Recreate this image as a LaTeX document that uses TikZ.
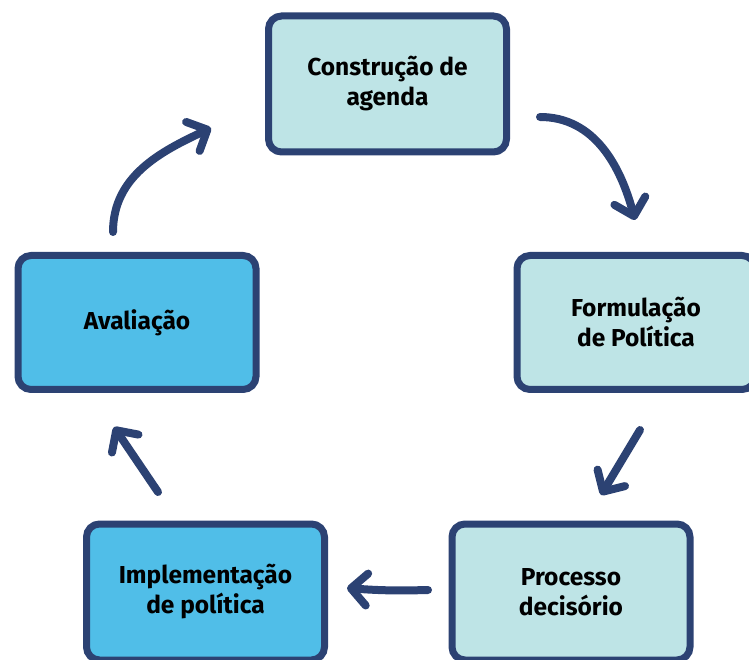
\documentclass[tikz,border=0pt]{standalone}
\usepackage{fontspec}
\setmainfont{Fira Sans}
\usepackage{xcolor}
\usepackage{tikz}
\usetikzlibrary{arrows.meta}
\definecolor{navy}{HTML}{2C4273}
\definecolor{agua}{HTML}{BEE4E6}
\definecolor{ceu}{HTML}{50BEE8}
\tikzset{etapa/.style={draw=navy, line width=7pt, rounded corners=13pt, minimum width=238pt, minimum height=136pt,
  align=center, font=\fontsize{24.5}{30}\selectfont\bfseries},
seta/.style={draw=navy, line width=8pt, line cap=round, line join=round,
  -{Straight Barb[length=16pt,width=32pt,line cap=round,line join=round]}}}

\begin{document}
\begin{tikzpicture}[x=1pt,y=1pt]
 \useasboundingbox (0,0) rectangle (749,659);

 %Drawing the boxes
 \node[etapa,fill=agua] (agenda) at (387.5,575) {Construção de\\agenda};
 \node[etapa,fill=agua,minimum height=134pt] (formulacao) at (636,336.5) {Formulação\\de Política};
 \node[etapa,fill=agua] (decisao) at (571,67) {Processo\\decisório};
 \node[etapa,fill=ceu] (implementacao) at (205.5,67) {Implementação\\de política};
 \node[etapa,fill=ceu,minimum height=134pt] (avaliacao) at (137,336.5) {Avaliação};

 %Free ends of the arrows
 \coordinate (s1) at (540,542);
 \coordinate (t1) at (635,439);
 \coordinate (s2) at (640,229);
 \coordinate (t2) at (601,164);
 \coordinate (s3) at (428,69);
 \coordinate (t3) at (347,71);
 \coordinate (s4) at (158,167);
 \coordinate (t4) at (114,232);
 \coordinate (s5) at (113,427);
 \coordinate (t5) at (211,531);

 %Drawing the arrows
 \draw[seta] (s1) to[out=0,in=105] (t1);
 \draw[seta] (s2) -- (t2);
 \draw[seta] (s3) to[bend left=3] (t3);
 \draw[seta] (s4) -- (t4);
 \draw[seta] (s5) to[out=90,in=205] (t5);

\end{tikzpicture}
\end{document}
